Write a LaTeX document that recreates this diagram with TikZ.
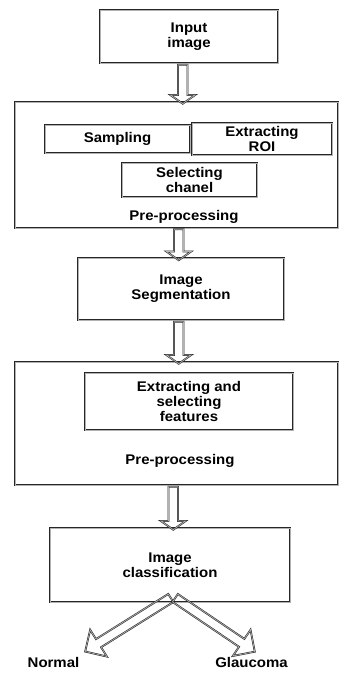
\documentclass[tikz,border=0pt]{standalone}
\usepackage{fontspec}
\setmainfont{Liberation Sans}[FakeStretch=1.07]
\usetikzlibrary{shapes.arrows,calc}
\begin{document}
\begin{tikzpicture}[x=1pt,y=-1pt,
  line/.style={draw=black!85, line width=0.55pt, double=black!30, double distance=0.7pt},
  box/.style={line, rectangle, inner sep=0pt, align=center,
    font=\fontsize{14}{15}\selectfont\bfseries},
  lbl/.style={inner sep=0pt, align=center, font=\fontsize{14}{15}\selectfont\bfseries},
  barrow/.style={single arrow, line, inner xsep=0pt, inner ysep=4.5pt, minimum width=0pt,
    single arrow head extend=7.5pt, single arrow tip angle=110,
    single arrow head indent=0pt, rotate=-90},
  farrow/.style={single arrow, line, inner xsep=0pt, inner ysep=4.5pt, minimum width=0pt,
    single arrow head extend=11pt, single arrow tip angle=90,
    single arrow head indent=0pt}]
\useasboundingbox (0,0) rectangle (339,673);
% boxes
\node[box, minimum width=178pt, minimum height=53pt] (in) at (189,36.5) {Input\\image};
\node[box, minimum width=323pt, minimum height=126pt] (pre1) at (176.5,165) {};
\node[box, minimum width=145pt, minimum height=28pt] (samp) at (117.5,139) {Sampling};
\node[box, minimum width=140pt, minimum height=32pt] (roi) at (262,139) {Extracting\\ROI};
\node[box, minimum width=135pt, minimum height=34pt] (chan) at (189.5,180) {Selecting\\chanel};
\node[lbl] (pl1) at (184,217) {Pre-processing};
\node[box, minimum width=206pt, minimum height=62pt] (seg) at (181,289) {Image\\Segmentation};
\node[box, minimum width=323pt, minimum height=123pt] (pre2) at (176.5,423.5) {};
\node[box, minimum width=208pt, minimum height=57pt] (feat) at (189,401.5) {Extracting and\\selecting\\features};
\node[lbl] (pl2) at (180,461) {Pre-processing};
\node[box, minimum width=240pt, minimum height=74pt] (cls) at (170,565) {Image\\classification};
\node[lbl] (nor) at (53.5,662) {Normal};
\node[lbl] (gla) at (251.5,662) {Glaucoma};
% block arrows
\node[barrow, minimum height=39pt] (a1) at ($(in.south)!0.5!(pre1.north)$) {};
\node[barrow, minimum height=31pt] (a2) at ($(pre1.south)!0.5!(seg.north)$) {};
\node[barrow, minimum height=42pt] (a3) at ($(seg.south)!0.5!(pre2.north)$) {};
\node[barrow, minimum height=43pt] (a4) at ($(pre2.south)!0.5!(cls.north)$) {};
\coordinate (apex) at (173,597);
\node[farrow, minimum height=101pt, rotate=212] (fl) at ($(apex)!0.5!(87,650)$) {};
\node[farrow, minimum height=96pt, rotate=-34] (fr) at ($(apex)!0.5!(253,650)$) {};
\end{tikzpicture}
\end{document}
